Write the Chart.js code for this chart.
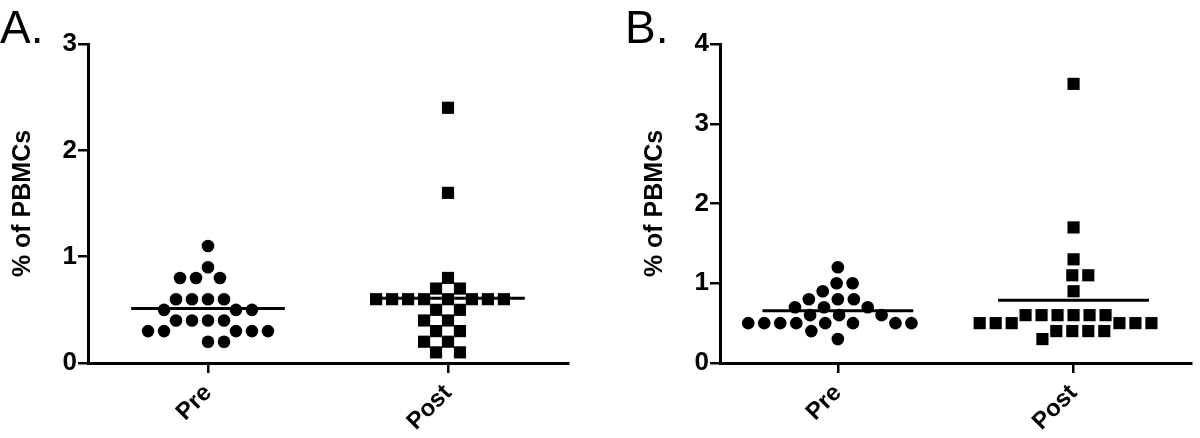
<!DOCTYPE html>
<html>
<head>
<meta charset="utf-8">
<script src="https://cdn.jsdelivr.net/npm/chart.js@4/dist/chart.umd.min.js"></script>
<style>
    html, body { margin: 0; padding: 0; background: #fff; }
    .panel { position: absolute; top: 0; width: 600px; height: 438px; }
    #panelA { left: 0; }
    #panelB { left: 600px; }
</style>
</head>
<body>
<div class="panel" id="panelA"><canvas id="chartA" width="600" height="438"></canvas></div>
<div class="panel" id="panelB"><canvas id="chartB" width="600" height="438"></canvas></div>
<script>
// values (% of PBMCs), 23 subjects per group
const groups = ['Pre', 'Post'];
const preA = [1.1, 0.9, 0.8, 0.8, 0.8, 0.6, 0.6, 0.6, 0.6, 0.5, 0.5, 0.5,
    0.4, 0.4, 0.4, 0.4, 0.3, 0.3, 0.3, 0.3, 0.3, 0.2, 0.2];
const postA = [2.4, 1.6, 0.8, 0.7, 0.7, 0.6, 0.6, 0.6, 0.6, 0.6, 0.6, 0.6, 0.6,
    0.5, 0.5, 0.4, 0.4, 0.3, 0.3, 0.2, 0.2, 0.1, 0.1];
const preB = [1.2, 1.0, 1.0, 0.9, 0.8, 0.8, 0.8, 0.7, 0.7, 0.7, 0.6, 0.6, 0.6,
    0.5, 0.5, 0.5, 0.5, 0.5, 0.5, 0.5, 0.5, 0.4, 0.3];
const postB = [3.5, 1.7, 1.3, 1.1, 1.1, 0.9, 0.6, 0.6, 0.6, 0.6, 0.6, 0.6,
    0.5, 0.5, 0.5, 0.5, 0.5, 0.5, 0.4, 0.4, 0.4, 0.4, 0.3];
const yTicksA = [0, 1, 2, 3];
const yTicksB = [0, 1, 2, 3, 4];

const FONT = "'Liberation Sans', Arial, Helvetica, sans-serif";
const MEAN_HALF = 0.32;

function mean(arr) {
    return arr.reduce((s, v) => s + v, 0) / arr.length;
}

// panel letter drawn in the top-left corner
const letterPlugin = {
    id: 'letter',
    afterDraw(chart, args, opts) {
        const c = chart.ctx;
        c.save();
        c.fillStyle = '#000';
        c.font = '46px ' + FONT;
        c.textBaseline = 'alphabetic';
        c.fillText(opts.text, opts.x, 43);
        c.restore();
    }
};

// spread points horizontally so they don't overlap (simple beeswarm)
function swarm(chart, dsIndex, center, D) {
    const xs = chart.scales.x, ys = chart.scales.y;
    const ds = chart.data.datasets[dsIndex];
    const pxPerUnit = xs.getPixelForValue(1) - xs.getPixelForValue(0);
    const placed = [];
    const order = ds.data.map((p, i) => i).sort((a, b) => ds.data[b].y - ds.data[a].y);
    order.forEach(i => {
        const py = ys.getPixelForValue(ds.data[i].y);
        const cands = [0];
        placed.forEach(p => {
            const dy = Math.abs(p.y - py);
            if (dy < D) {
                const dx = Math.sqrt(D * D - dy * dy);
                cands.push(p.x + dx, p.x - dx);
            }
        });
        cands.sort((a, b) => Math.abs(a) - Math.abs(b) || a - b);
        const ok = cands.find(c => placed.every(p => (p.x - c) ** 2 + (p.y - py) ** 2 >= D * D - 0.01));
        placed.push({ x: ok, y: py });
        ds.data[i].x = center + ok / pxPerUnit;
    });
}

function renderPanel(id, letter, letterX, pre, post, yTicks, padLeft, padRight) {
    const ctx = document.getElementById(id).getContext('2d');
    const mPre = mean(pre), mPost = mean(post);
    const chart = new Chart(ctx, {
        type: 'scatter',
        data: {
            datasets: [
                {
                    data: pre.map(v => ({ x: 0.5, y: v })),
                    pointStyle: 'circle',
                    pointRadius: 6.3,
                    backgroundColor: '#000',
                    borderWidth: 0,
                    clip: false
                },
                {
                    data: post.map(v => ({ x: 1.5, y: v })),
                    pointStyle: 'rect',
                    pointRadius: 8.6,
                    backgroundColor: '#000',
                    borderWidth: 0,
                    clip: false
                },
                {
                    type: 'line',
                    data: [{ x: 0.5 - MEAN_HALF, y: mPre }, { x: 0.5 + MEAN_HALF, y: mPre }],
                    borderColor: '#000',
                    borderWidth: 3,
                    pointRadius: 0
                },
                {
                    type: 'line',
                    data: [{ x: 1.5 - MEAN_HALF, y: mPost }, { x: 1.5 + MEAN_HALF, y: mPost }],
                    borderColor: '#000',
                    borderWidth: 3,
                    pointRadius: 0
                }
            ]
        },
        options: {
            responsive: false,
            animation: false,
            layout: { padding: { left: padLeft, right: padRight, top: 44, bottom: 0 } },
            plugins: {
                legend: { display: false },
                tooltip: { enabled: false },
                letter: { text: letter, x: letterX }
            },
            scales: {
                x: {
                    type: 'linear',
                    min: 0,
                    max: 2,
                    afterBuildTicks: scale => { scale.ticks = [{ value: 0.5 }, { value: 1.5 }]; },
                    afterFit: scale => { scale.height = 75; },
                    border: { display: true, color: '#000', width: 3 },
                    grid: { drawOnChartArea: false, color: '#000', lineWidth: 2.5, tickLength: 10 },
                    ticks: {
                        autoSkip: false,
                        minRotation: 45,
                        maxRotation: 45,
                        padding: 6,
                        color: '#000',
                        font: { family: FONT, size: 24, weight: 'bold' },
                        callback: (v, i) => groups[i]
                    }
                },
                y: {
                    min: 0,
                    max: yTicks[yTicks.length - 1],
                    afterBuildTicks: scale => { scale.ticks = yTicks.map(v => ({ value: v })); },
                    afterFit: scale => { scale.width = 88; },
                    border: { display: true, color: '#000', width: 3 },
                    grid: { drawOnChartArea: false, color: '#000', lineWidth: 2.5, tickLength: 10 },
                    ticks: {
                        padding: 1,
                        color: '#000',
                        font: { family: FONT, size: 26, weight: 'bold' }
                    },
                    title: {
                        display: true,
                        text: '% of PBMCs',
                        color: '#000',
                        padding: { top: 8, bottom: 0 },
                        font: { family: FONT, size: 25, weight: 'bold' }
                    }
                }
            }
        },
        plugins: [letterPlugin]
    });
    swarm(chart, 0, 0.5, 16);
    swarm(chart, 1, 1.5, 16);
    chart.update('none');
    return chart;
}

renderPanel('chartA', 'A.', 0, preA, postA, yTicksA, 0, 32);
renderPanel('chartB', 'B.', 25, preB, postB, yTicksB, 32, 0);
</script>
</body>
</html>
